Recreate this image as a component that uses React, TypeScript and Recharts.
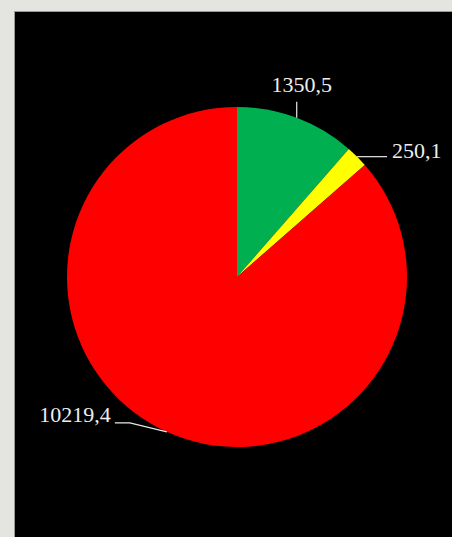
import { PieChart, Pie, Cell } from "recharts";

const categories = ["A", "B", "C"];
const values = [1350.5, 250.1, 10219.4];
const colors = ["#00b050", "#ffff00", "#ff0000"];

const data = categories.map((name, i) => ({ name, value: values[i] }));

const RAD = Math.PI / 180;
const fmt = (v: number) => v.toFixed(1).replace(".", ",");

function renderLabel(props: any) {
  const { cx, cy, midAngle, outerRadius, value } = props;
  const cos = Math.cos(-midAngle * RAD);
  const sin = Math.sin(-midAngle * RAD);
  const ex = cx + outerRadius * cos;
  const ey = cy + outerRadius * sin;
  const textStyle = {
    fill: "#eeeeee",
    fontFamily: "'Liberation Serif', 'DejaVu Serif', serif",
    fontSize: 22,
  };
  const stroke = { stroke: "#e8e8e8", strokeWidth: 1.2, fill: "none" };

  if (-sin > 0.8) {
    // near the top: straight up
    return (
      <g>
        <path d={`M${ex},${ey} L${ex},${ey - 16}`} {...stroke} />
        <text x={ex + 5} y={ey - 26} textAnchor="middle" style={textStyle}>
          {fmt(value)}
        </text>
      </g>
    );
  }
  if (cos > 0) {
    return (
      <g>
        <path d={`M${ex},${ey} L${ex + 30},${ey}`} {...stroke} />
        <text x={ex + 35} y={ey + 1} textAnchor="start" style={textStyle}>
          {fmt(value)}
        </text>
      </g>
    );
  }
  return (
    <g>
      <path
        d={`M${ex},${ey} L${ex - 37},${ey - 9} L${ex - 52},${ey - 9}`}
        {...stroke}
      />
      <text x={ex - 56} y={ey - 10} textAnchor="end" style={textStyle}>
        {fmt(value)}
      </text>
    </g>
  );
}

export default function App() {
  return (
    <>
      <style>{`body{margin:0}`}</style>
      <div
        style={{
          position: "relative",
          width: 452,
          height: 537,
          background: "#e4e4e1",
          overflow: "hidden",
        }}
      >
        <div
          style={{
            position: "absolute",
            left: 14,
            top: 11,
            right: 0,
            bottom: 0,
            background: "#000",
            borderTop: "1px solid #9a9a98",
            borderLeft: "1px solid #9a9a98",
          }}
        />
        <div style={{ position: "absolute", left: 0, top: 0 }}>
          <PieChart
            width={452}
            height={537}
            margin={{ top: 0, right: 0, bottom: 0, left: 0 }}
          >
            <Pie
              data={data}
              dataKey="value"
              nameKey="name"
              cx={237}
              cy={277}
              outerRadius={170}
              startAngle={90}
              endAngle={-270}
              stroke="none"
              label={renderLabel}
              labelLine={false}
              isAnimationActive={false}
            >
              {data.map((d, i) => (
                <Cell key={d.name} fill={colors[i]} />
              ))}
            </Pie>
          </PieChart>
        </div>
      </div>
    </>
  );
}
